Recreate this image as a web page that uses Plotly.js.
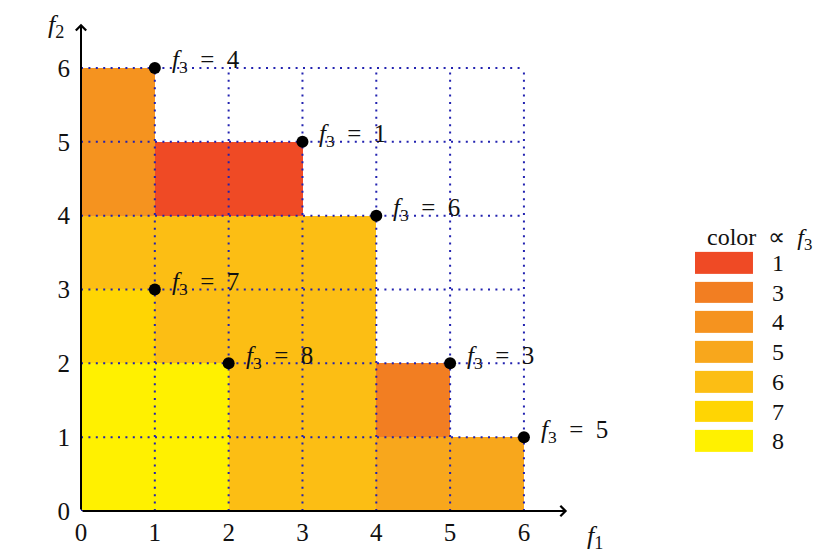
<!DOCTYPE html>
<html><head><meta charset="utf-8">
<script src="https://cdn.plot.ly/plotly-3.0.1.min.js"></script>
<style>body{margin:0;background:#fff}#chart{width:834px;height:558px}</style>
</head><body><div id="chart"></div>
<script>
// Data
var pointsF1 = [1, 3, 4, 1, 2, 5, 6];
var pointsF2 = [6, 5, 4, 3, 2, 2, 1];
var pointsF3 = [4, 1, 6, 7, 8, 3, 5];
var cellCentersX = [0.5, 1.5, 2.5, 3.5, 4.5, 5.5];
var cellCentersY = [0.5, 1.5, 2.5, 3.5, 4.5, 5.5];
// rows from bottom (f2 in [0,1]) to top (f2 in [5,6]); value = colour level f3
var cellZ = [
  [8, 8, 6, 6, 5, 5],
  [8, 8, 6, 6, 3, null],
  [7, 6, 6, 6, null, null],
  [6, 6, 6, 6, null, null],
  [4, 1, 1, null, null, null],
  [4, null, null, null, null, null]
];
var levels = [1, 3, 4, 5, 6, 7, 8];
var levelLabels = ['1', '3', '4', '5', '6', '7', '8'];
var levelColors = ['#EF4A25', '#F27E22', '#F5931F', '#F8A71C', '#FCBE14', '#FFD503', '#FFF100'];
var tickVals = [0, 1, 2, 3, 4, 5, 6];

var FONT = 'Liberation Serif';
var TXT = '#111';
var zmin = 1, zmax = 8;
// stepwise colour scale
var cs = [];
for (var i = 0; i < levels.length; i++) {
  var lo = i === 0 ? zmin : (levels[i - 1] + levels[i]) / 2;
  var hi = i === levels.length - 1 ? zmax : (levels[i] + levels[i + 1]) / 2;
  cs.push([(lo - zmin) / (zmax - zmin), levelColors[i]]);
  cs.push([(hi - zmin) / (zmax - zmin), levelColors[i]]);
}

// dotted grid lines
var gx = [], gy = [];
var gmax = tickVals[tickVals.length - 1];
tickVals.forEach(function (k) {
  gx.push(0, gmax, null); gy.push(k, k, null);
  gx.push(k, k, null); gy.push(0, gmax, null);
});

var traces = [
  {type: 'heatmap', x: cellCentersX, y: cellCentersY, z: cellZ, colorscale: cs,
   zmin: zmin, zmax: zmax, showscale: false, hoverongaps: false, xaxis: 'x', yaxis: 'y'},
  {type: 'scatter', mode: 'lines', x: gx, y: gy, connectgaps: false,
   line: {color: '#2222b0', width: 2, dash: '2px,5.4px'}, hoverinfo: 'skip', xaxis: 'x', yaxis: 'y'},
  {type: 'scatter', mode: 'markers', x: pointsF1, y: pointsF2,
   marker: {color: '#000', size: 12}, xaxis: 'x', yaxis: 'y', cliponaxis: false},
  {type: 'heatmap', x: [0], y: levelLabels, z: levels.map(function (v) { return [v]; }),
   colorscale: cs, zmin: zmin, zmax: zmax, showscale: false, ygap: 8, xaxis: 'x2', yaxis: 'y2'}
];

var ann = [];
for (var j = 0; j < pointsF1.length; j++) {
  ann.push({xref: 'x', yref: 'y', x: pointsF1[j], y: pointsF2[j], showarrow: false,
    text: '<i>f</i><sub>3</sub>\u2002=\u2002' + pointsF3[j], xanchor: 'left', yanchor: 'middle',
    xshift: 15, yshift: 6, font: {family: FONT, size: 25, color: TXT}});
}
// axis arrows
ann.push({xref: 'x', yref: 'y', axref: 'x', ayref: 'y', x: 6.585, y: 0, ax: 0, ay: 0, text: '',
  showarrow: true, arrowhead: 4, arrowsize: 1, arrowwidth: 2, arrowcolor: '#000'});
ann.push({xref: 'x', yref: 'y', axref: 'x', ayref: 'y', x: 0, y: 6.6, ax: 0, ay: 0, text: '',
  showarrow: true, arrowhead: 4, arrowsize: 1, arrowwidth: 2, arrowcolor: '#000'});
// axis titles
ann.push({xref: 'paper', yref: 'paper', x: -0.0346, y: 0.988, showarrow: false,
  xanchor: 'center', yanchor: 'middle',
  text: '<i>f</i><sub>2</sub>', font: {family: FONT, size: 26, color: TXT}});
ann.push({xref: 'paper', yref: 'paper', x: 0.711, y: -0.053, showarrow: false,
  xanchor: 'center', yanchor: 'middle',
  text: '<i>f</i><sub>1</sub>', font: {family: FONT, size: 26, color: TXT}});
// legend title
ann.push({xref: 'paper', yref: 'paper', x: 0.939, y: 0.553, showarrow: false,
  xanchor: 'center', yanchor: 'middle',
  text: 'color\u2002∝\u2002<i>f</i><sub>3</sub>', font: {family: FONT, size: 24, color: TXT}});

var layout = {
  width: 834, height: 558,
  margin: {l: 81, r: 30, t: 20, b: 47},
  paper_bgcolor: '#fff', plot_bgcolor: 'rgba(0,0,0,0)',
  showlegend: false,
  font: {family: FONT, size: 24, color: TXT},
  xaxis: {range: [0, 6.65], domain: [0, 0.679], tickvals: tickVals, ticks: '',
    showgrid: false, zeroline: false, showline: false, fixedrange: true,
    tickfont: {family: FONT, size: 25, color: TXT}, ticklabelstandoff: 4},
  yaxis: {range: [0, 6.65], domain: [0, 1], tickvals: tickVals, ticks: '',
    showgrid: false, zeroline: false, showline: false, fixedrange: true,
    tickfont: {family: FONT, size: 25, color: TXT}, ticklabelstandoff: 10},
  xaxis2: {domain: [0.8492, 0.9295], range: [-0.5, 0.5], anchor: 'y2', visible: false},
  yaxis2: {domain: [0.1125, 0.536], anchor: 'x2', type: 'category', autorange: 'reversed',
    tickmode: 'array', tickvals: levelLabels, ticktext: levelLabels,
    side: 'right', ticks: '', showgrid: false, zeroline: false, showline: false,
    tickfont: {family: FONT, size: 24, color: TXT}, ticklabelstandoff: 18},
  annotations: ann
};
Plotly.newPlot('chart', traces, layout, {displayModeBar: false, staticPlot: true});
</script></body></html>
